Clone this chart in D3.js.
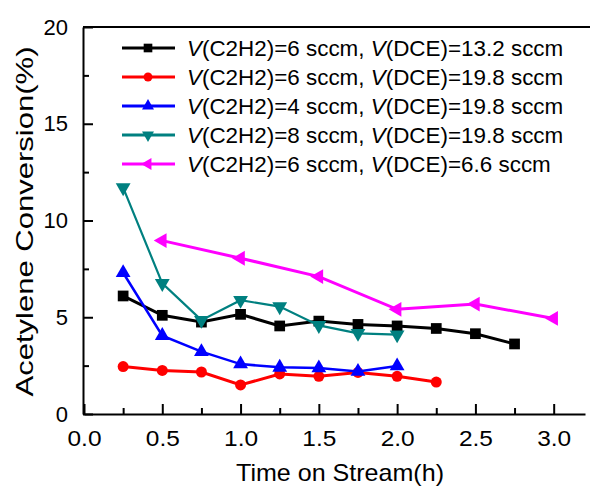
<!DOCTYPE html>
<html>
<head>
<meta charset="utf-8">
<script src="https://cdn.jsdelivr.net/npm/d3@7"></script>
<style>
  body { margin: 0; background: #fff; }
  text { font-family: "Liberation Sans", Arial, sans-serif; fill: #000; }
</style>
</head>
<body>
<svg id="chart" width="590" height="486"></svg>
<script>
// time on stream (h)
const blackX = [0.25, 0.5, 0.75, 1.0, 1.25, 1.5, 1.75, 2.0, 2.25, 2.5, 2.75];
const blackY = [6.1, 5.1, 4.75, 5.15, 4.55, 4.8, 4.63, 4.55, 4.42, 4.15, 3.62];
const redX = [0.25, 0.5, 0.75, 1.0, 1.25, 1.5, 1.75, 2.0, 2.25];
const redY = [2.45, 2.25, 2.17, 1.5, 2.07, 1.95, 2.15, 1.95, 1.65];
const blueX = [0.25, 0.5, 0.75, 1.0, 1.25, 1.5, 1.75, 2.0];
const blueY = [7.3, 4.05, 3.22, 2.58, 2.41, 2.38, 2.2, 2.48];
const tealX = [0.25, 0.5, 0.75, 1.0, 1.25, 1.5, 1.75, 2.0];
const tealY = [11.7, 6.75, 4.85, 5.88, 5.55, 4.58, 4.17, 4.1];
const magX = [0.5, 1.0, 1.5, 2.0, 2.5, 3.0];
const magY = [8.96, 8.05, 7.1, 5.41, 5.68, 4.94];

const legendC2H2 = ["6", "6", "4", "8", "6"];
const legendDCE = ["13.2", "19.8", "19.8", "19.8", "6.6"];

const xTicks = [0, 0.5, 1.0, 1.5, 2.0, 2.5, 3.0];
const xMinor = [0.25, 0.75, 1.25, 1.75, 2.25, 2.75];
const yTicks = [0, 5, 10, 15, 20];
const yMinor = [2.5, 7.5, 12.5, 17.5];

const series = [
  { xs: blackX, ys: blackY, color: "#000000", shape: d3.symbolSquare, size: 115, rot: 0, w: 3 },
  { xs: redX, ys: redY, color: "#ff0000", shape: d3.symbolCircle, size: 95, rot: 0, w: 3 },
  { xs: blueX, ys: blueY, color: "#0000ff", shape: d3.symbolTriangle, size: 95, rot: 0, w: 2.5 },
  { xs: tealX, ys: tealY, color: "#008080", shape: d3.symbolTriangle, size: 95, rot: 180, w: 2.2 },
  { xs: magX, ys: magY, color: "#ff00ff", shape: d3.symbolTriangle, size: 95, rot: -90, w: 3 }
];

const svg = d3.select("#chart");
const width = +svg.attr("width");

const x = d3.scaleLinear().domain([0, 3.2]).range([84, 585]);
const y = d3.scaleLinear().domain([0, 20]).range([414, 27]);

// top frame line
svg.append("line")
    .attr("x1", x(0) - 1).attr("x2", width)
    .attr("y1", y(20)).attr("y2", y(20))
    .attr("stroke", "#000").attr("stroke-width", 2);

const xAxis = svg.append("g").attr("transform", `translate(0,${y(0)})`)
    .call(d3.axisBottom(x).tickValues(xTicks).tickFormat(d3.format(".1f"))
        .tickSizeInner(-10).tickSizeOuter(0).tickPadding(16));
xAxis.selectAll(".tick text")
    .style("font-size", "22px")
    .attr("textLength", 34).attr("lengthAdjust", "spacingAndGlyphs");
svg.append("g").attr("transform", `translate(0,${y(0)})`)
    .call(d3.axisBottom(x).tickValues(xMinor).tickFormat("")
        .tickSizeInner(-6).tickSizeOuter(0))
    .select(".domain").remove();

const yAxis = svg.append("g").attr("transform", `translate(${x(0) - 1},0)`)
    .call(d3.axisLeft(y).tickValues(yTicks)
        .tickSizeInner(-10).tickSizeOuter(0).tickPadding(15));
yAxis.selectAll(".tick text").style("font-size", "22px");
svg.append("g").attr("transform", `translate(${x(0) - 1},0)`)
    .call(d3.axisLeft(y).tickValues(yMinor).tickFormat("")
        .tickSizeInner(-6).tickSizeOuter(0))
    .select(".domain").remove();

svg.selectAll(".domain, .tick line").attr("stroke", "#000").attr("stroke-width", 2);
svg.selectAll(".tick text").style("font-family", "'Liberation Sans', Arial, sans-serif");

svg.append("text")
    .attr("x", 340)
    .attr("y", 481)
    .attr("text-anchor", "middle")
    .style("font-size", "24px")
    .attr("textLength", 208).attr("lengthAdjust", "spacingAndGlyphs")
    .text("Time on Stream(h)");

svg.append("text")
    .attr("transform", `translate(33,${(y(0) + y(20)) / 2 + 1}) rotate(-90)`)
    .attr("text-anchor", "middle")
    .style("font-size", "24px")
    .attr("textLength", 350).attr("lengthAdjust", "spacingAndGlyphs")
    .text("Acetylene Conversion(%)");

const line = d3.line().x(d => x(d[0])).y(d => y(d[1]));

series.forEach(s => {
    const pts = s.xs.map((v, i) => [v, s.ys[i]]);
    svg.append("path")
        .datum(pts)
        .attr("d", line)
        .attr("fill", "none")
        .attr("stroke", s.color)
        .attr("stroke-width", s.w);
    svg.selectAll(null)
        .data(pts)
        .enter()
        .append("path")
        .attr("d", d3.symbol().type(s.shape).size(s.size))
        .attr("transform", d => `translate(${x(d[0])},${y(d[1])}) rotate(${s.rot})`)
        .attr("fill", s.color);
});

// legend
const legend = svg.append("g");
series.forEach((s, i) => {
    const ly = 48 + i * 29;
    legend.append("line")
        .attr("x1", 122).attr("x2", 175)
        .attr("y1", ly).attr("y2", ly)
        .attr("stroke", s.color).attr("stroke-width", 3);
    legend.append("path")
        .attr("d", d3.symbol().type(s.shape).size(s.size * 0.65))
        .attr("transform", `translate(148,${ly}) rotate(${s.rot})`)
        .attr("fill", s.color);
    const t = legend.append("text")
        .attr("x", 187).attr("y", ly + 8)
        .style("font-size", "22px");
    t.append("tspan").style("font-style", "italic").text("V");
    t.append("tspan").text(`(C2H2)=${legendC2H2[i]} sccm, `);
    t.append("tspan").style("font-style", "italic").text("V");
    t.append("tspan").text(`(DCE)=${legendDCE[i]} sccm`);
    // stretch to the width the original legend occupies
    const w = t.node().getComputedTextLength();
    const target = w * 376 / 369;
    t.attr("textLength", target).attr("lengthAdjust", "spacingAndGlyphs");
});
</script>
</body>
</html>
